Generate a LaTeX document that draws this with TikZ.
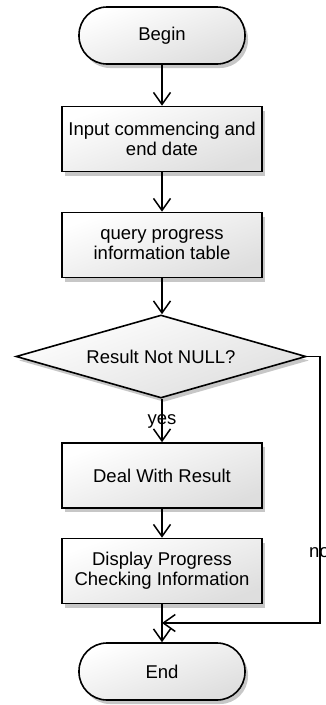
\documentclass[tikz,border=0pt]{standalone}
\usepackage{fontspec}
\setmainfont{Liberation Sans}
\usetikzlibrary{shapes.geometric,arrows.meta,shadows}
\begin{document}
\begin{tikzpicture}[x=1pt,y=-1pt,
  font=\fontsize{18.5}{20}\selectfont,
  base/.style={draw=black, line width=1.6pt, top color=white, bottom color=black!13,
    shading angle=20,
    drop shadow={shadow xshift=3pt, shadow yshift=-4pt, opacity=0.22, fill=black}},
  term/.style={base, rectangle, rounded corners=28pt, minimum width=166pt, minimum height=57pt, inner sep=0pt},
  stepbox/.style={base, rectangle, minimum width=200pt, minimum height=65pt, inner sep=0pt, align=center},
  decision/.style={base, diamond, shape aspect=3.5, minimum width=290pt, minimum height=83pt, inner sep=0pt},
  conn/.style={line width=1.5pt, -{Straight Barb[length=12pt,width=17pt,line width=1.5pt]}},
  lbl/.style={inner sep=0pt}]
\useasboundingbox (0,0) rectangle (326,705);
\node[term] (begin) at (162,35.5) {Begin};
\node[stepbox] (b1) at (162,139) {Input commencing and\\end date};
\node[stepbox] (b2) at (162,245) {query progress\\information table};
\node[decision] (dia) at (161,356.5) {Result Not NULL?};
\node[stepbox] (b3) at (162,475.5) {Deal With Result};
\node[stepbox] (b4) at (162,571) {Display Progress\\Checking Information};
\node[term] (end) at (162,671.5) {End};
\coordinate (nc) at (320,623);
\coordinate (jn) at (162,623);
\draw[conn] (begin) -- (b1);
\draw[conn] (b1) -- (b2);
\draw[conn] (b2.south) -- (b2.south |- dia.north);
\draw[conn] (b2.south |- dia.south) -- (b3.north);
\draw[conn] (b3) -- (b4);
\draw[conn] (b4) -- (end);
\node[lbl] (yes) at (162,421) {yes};
\node[lbl, anchor=west] (no) at (309,553) {no};
\draw[conn] (dia.east) -| (nc) -- (jn);
\end{tikzpicture}
\end{document}
